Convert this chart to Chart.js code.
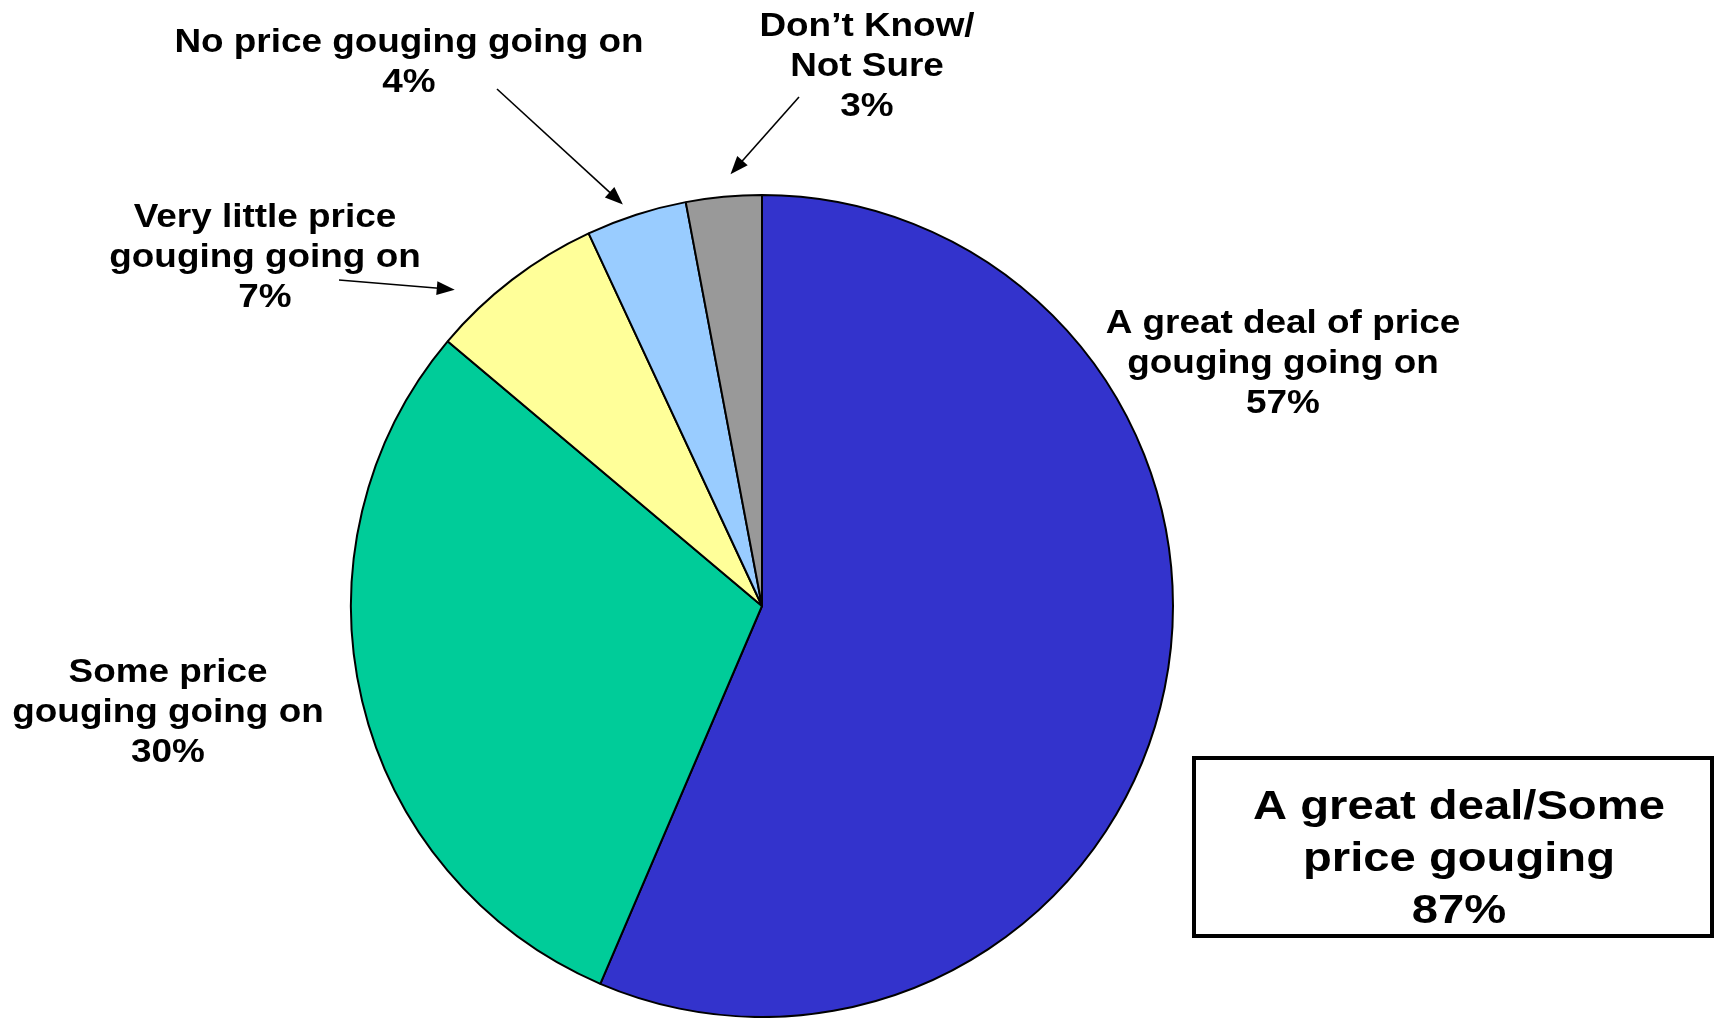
<!DOCTYPE html>
<html>
<head>
<meta charset="utf-8">
<script src="https://cdn.jsdelivr.net/npm/chart.js@4/dist/chart.umd.min.js"></script>
<style>
  html, body { margin: 0; padding: 0; background: #ffffff; overflow: hidden; }
  #wrap { width: 1717px; height: 1018px; position: relative; }
</style>
</head>
<body>
<div id="wrap"><canvas id="c" width="1717" height="1018"></canvas></div>
<script>
// ---- data ----
const categories = [
  "A great deal of price gouging going on",
  "Some price gouging going on",
  "Very little price gouging going on",
  "No price gouging going on",
  "Don’t Know/Not Sure"
];
const values = [57, 30, 7, 4, 3];
const labelLines = [
  ["A great deal of price", "gouging going on"],
  ["Some price", "gouging going on"],
  ["Very little price", "gouging going on"],
  ["No price gouging going on"],
  ["Don’t Know/", "Not Sure"]
];
const summaryLines = ["A great deal/Some", "price gouging"];
const summaryValue = values[0] + values[1];

// ---- styles / layout ----
const colors = ["#3333CC", "#00CC99", "#FFFF99", "#99CCFF", "#999999"];
const labelPos = [
  { x: 1283, y: 333 },
  { x: 168, y: 682 },
  { x: 265, y: 227 },
  { x: 409, y: 52 },
  { x: 867, y: 36 }
];
const arrows = [
  { index: 2, fromX: 339, fromY: 280, t: 0.23, gap: 30 },
  { index: 3, fromX: 497, fromY: 89, t: 0.41, gap: 14 },
  { index: 4, fromX: 799, fromY: 97, t: 0.61, gap: 22 }
];
const FONT = '"Liberation Sans", Arial, Helvetica, sans-serif';

function drawStretchedText(ctx, text, x, y, size, sx) {
  ctx.save();
  ctx.translate(x, y);
  ctx.scale(sx, 1);
  ctx.font = 'bold ' + size + 'px ' + FONT;
  ctx.textAlign = 'center';
  ctx.textBaseline = 'alphabetic';
  ctx.fillStyle = '#000';
  ctx.fillText(text, 0, 0);
  ctx.restore();
}

const annotate = {
  id: 'annotate',
  afterDraw(chart) {
    const ctx = chart.ctx;
    const meta = chart.getDatasetMeta(0);
    // slice labels
    labelLines.forEach((lines, i) => {
      const p = labelPos[i];
      const all = lines.concat([values[i] + '%']);
      all.forEach((ln, k) => drawStretchedText(ctx, ln, p.x, p.y + k * 40, 34, 1.085));
    });
    // arrows
    arrows.forEach(a => {
      const arc = meta.data[a.index];
      const ang = arc.startAngle + a.t * (arc.endAngle - arc.startAngle);
      const r = arc.outerRadius + a.gap;
      const tx = arc.x + r * Math.cos(ang);
      const ty = arc.y + r * Math.sin(ang);
      const dx = tx - a.fromX, dy = ty - a.fromY;
      const len = Math.hypot(dx, dy);
      const ux = dx / len, uy = dy / len;
      const headL = 18, headW = 7;
      const bx = tx - ux * headL, by = ty - uy * headL;
      ctx.save();
      ctx.strokeStyle = '#000';
      ctx.fillStyle = '#000';
      ctx.lineWidth = 1.6;
      ctx.beginPath();
      ctx.moveTo(a.fromX, a.fromY);
      ctx.lineTo(bx + ux * 2, by + uy * 2);
      ctx.stroke();
      ctx.beginPath();
      ctx.moveTo(tx, ty);
      ctx.lineTo(bx - uy * headW, by + ux * headW);
      ctx.lineTo(bx + uy * headW, by - ux * headW);
      ctx.closePath();
      ctx.fill();
      ctx.restore();
    });
    // summary box
    ctx.save();
    ctx.strokeStyle = '#000';
    ctx.lineWidth = 4;
    ctx.strokeRect(1194, 758, 518, 178);
    ctx.restore();
    const sLines = summaryLines.concat([summaryValue + '%']);
    sLines.forEach((ln, k) => drawStretchedText(ctx, ln, 1459, 819 + k * 52, 40, 1.18));
  }
};

new Chart(document.getElementById('c'), {
  type: 'pie',
  data: {
    labels: categories,
    datasets: [{
      data: values,
      backgroundColor: colors,
      borderColor: '#000000',
      borderWidth: 2
    }]
  },
  options: {
    responsive: false,
    animation: false,
    radius: 411,
    layout: { padding: { left: 0, right: 193, top: 194, bottom: 0 } },
    plugins: {
      legend: { display: false },
      tooltip: { enabled: false }
    }
  },
  plugins: [annotate]
});
</script>
</body>
</html>
